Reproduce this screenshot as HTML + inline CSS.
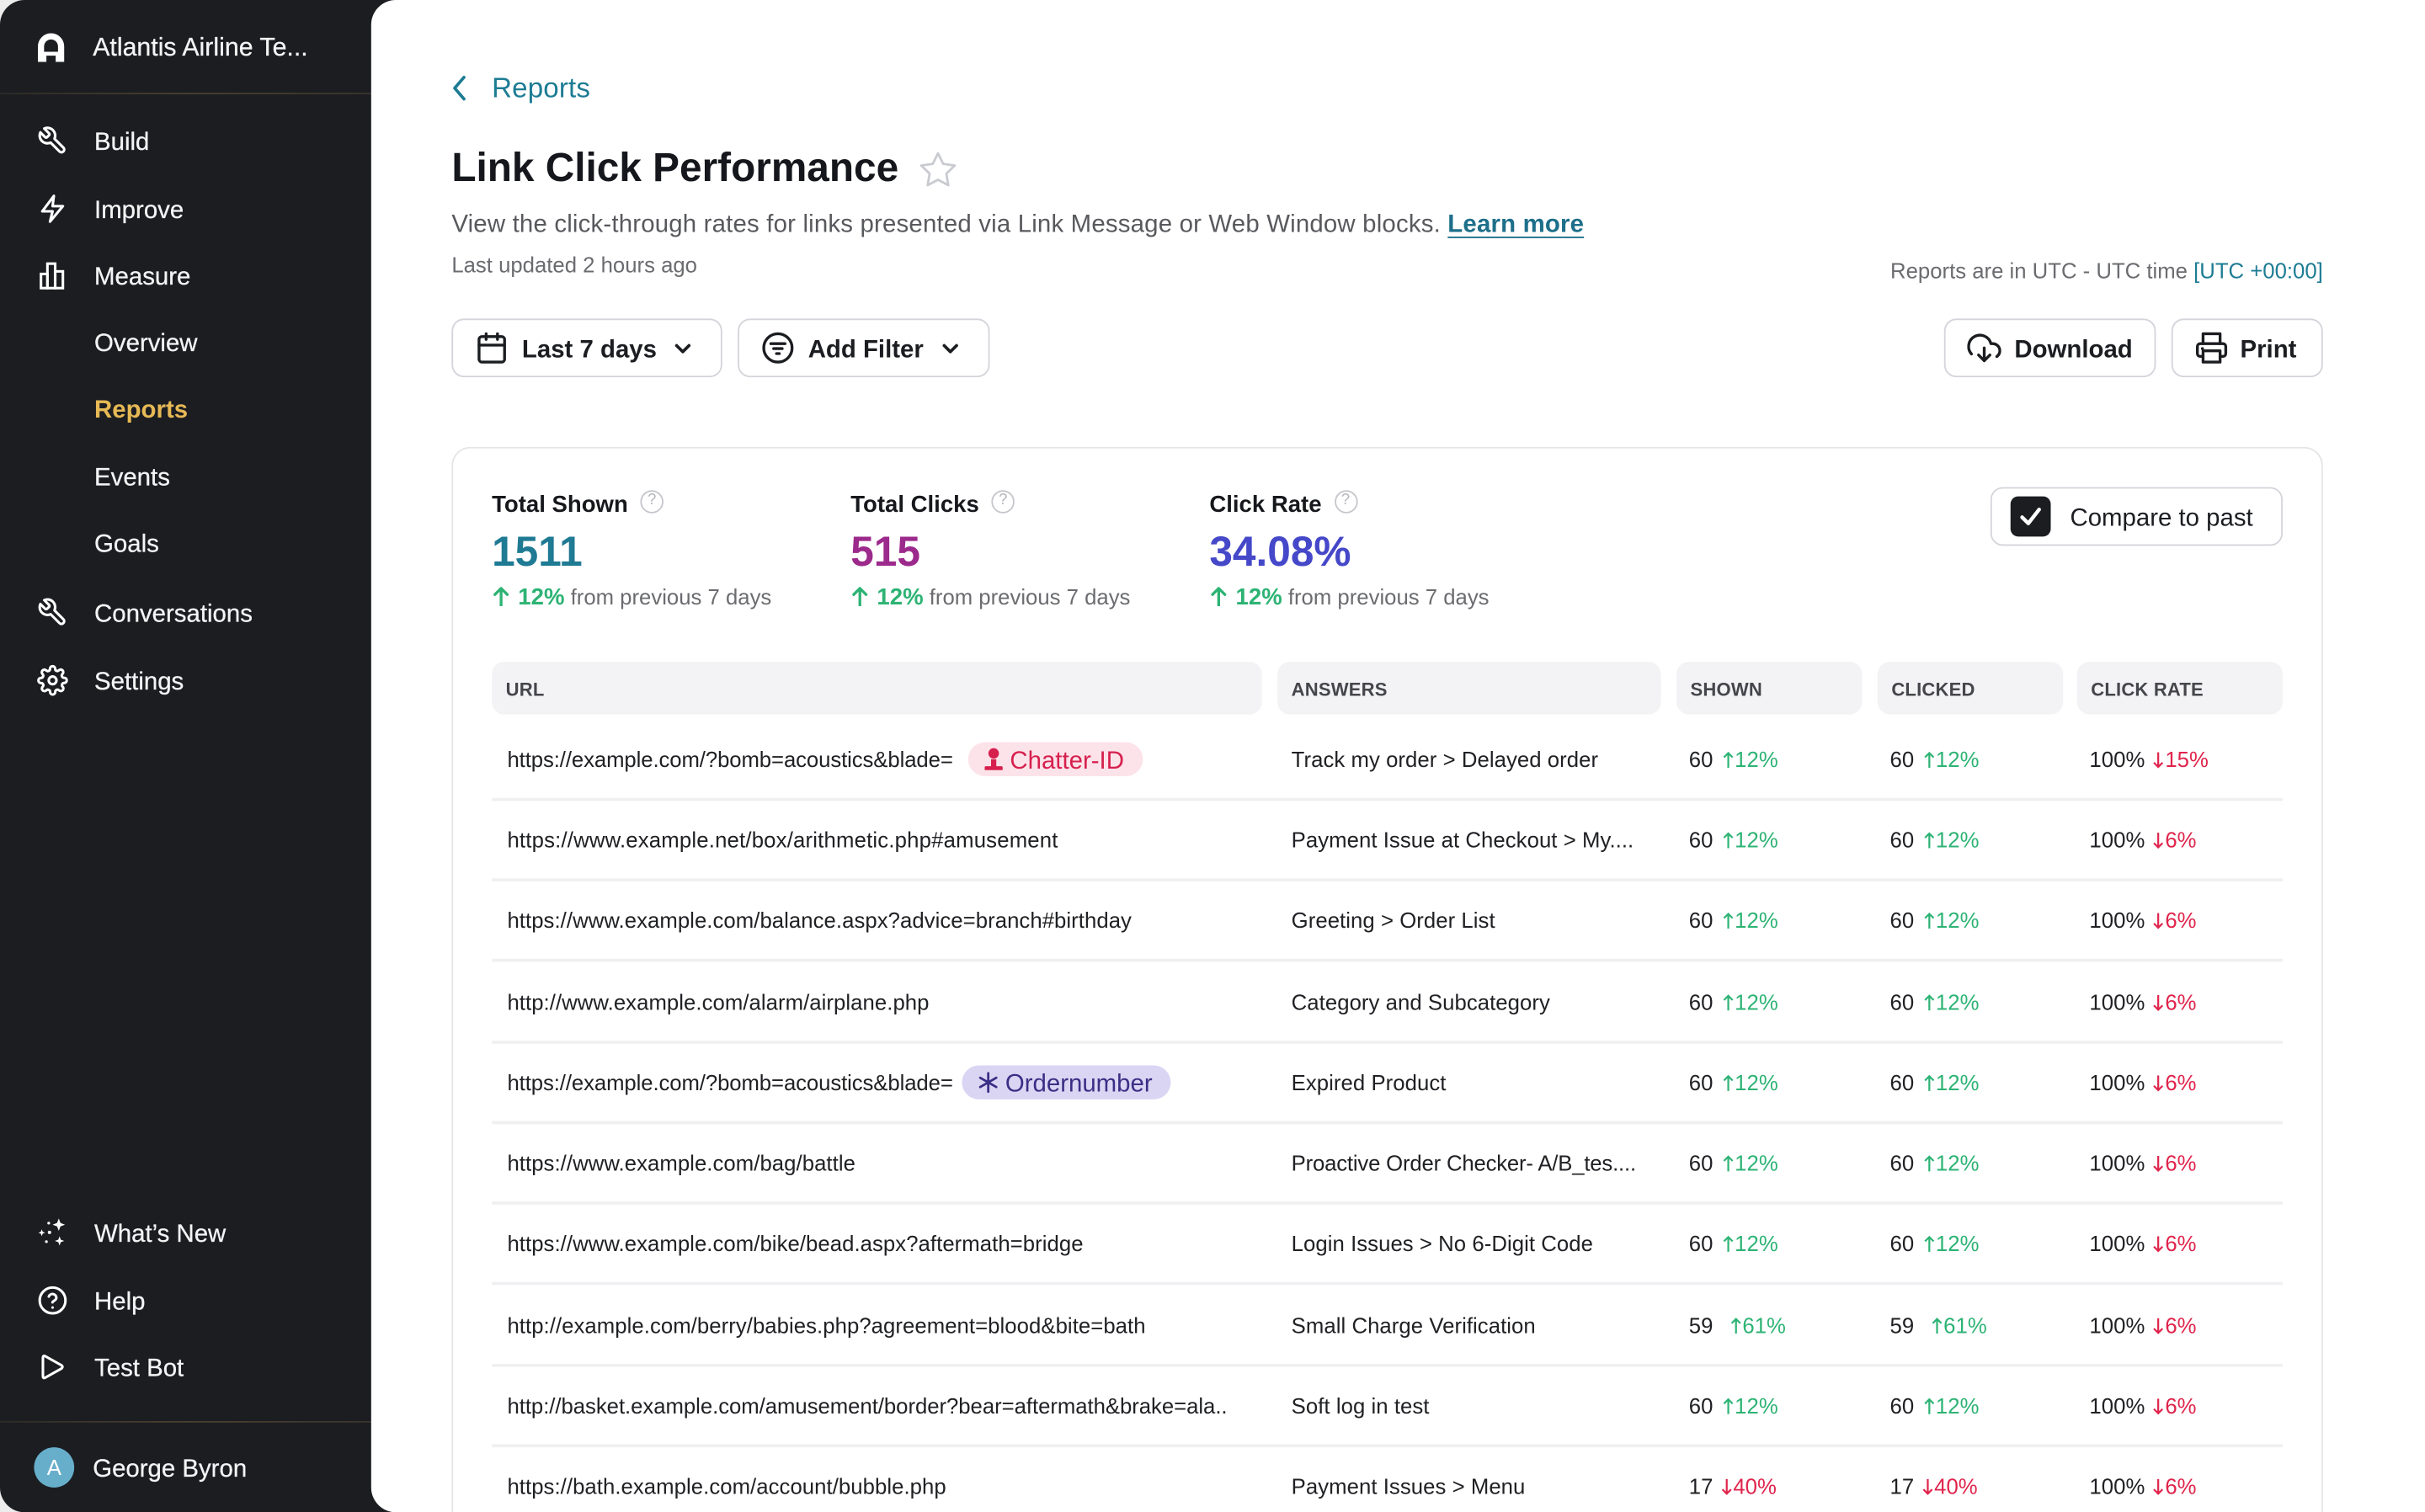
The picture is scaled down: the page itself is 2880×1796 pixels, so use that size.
<!DOCTYPE html>
<html><head><meta charset="utf-8">
<style>
*{box-sizing:border-box}
html,body{margin:0;padding:0}
body{width:2880px;height:1796px;overflow:hidden;background:#ececec;font-family:"Liberation Sans",Arial,sans-serif;position:relative}
#s{position:absolute;left:0;top:0;width:1568px;height:978px;transform:scale(1.836735);transform-origin:0 0;overflow:hidden}
.a{position:absolute;white-space:nowrap}
.side{position:absolute;left:0;top:0;width:280px;height:978px;background:#1b1d21;border-radius:16px 0 0 16px}
.nav{position:absolute;left:61px;height:20px;line-height:20px;font-size:16px;color:#f4f4f5;white-space:nowrap;margin-top:2px;-webkit-text-stroke:0.15px #f4f4f5}
.ic{position:absolute;left:24px;width:20px;height:20px}
.div{position:absolute;left:0;width:240px;height:1px;background:linear-gradient(90deg,#2e2b27,#4a4030 50%,#3a352c)}
.main{position:absolute;left:240px;top:0;width:1328px;height:978px;background:#fff;border-radius:16px 0 0 16px}
.btn{position:absolute;top:206px;height:38px;border:1.5px solid #d4d5db;border-radius:8px;background:#fff}
.btn .bt{position:absolute;top:1.5px;height:35px;line-height:35px;font-size:16px;font-weight:700;color:#1b1d21;white-space:nowrap}
.btn svg{position:absolute}
.th{position:absolute;top:428px;height:34px;background:#f3f3f5;border-radius:8px}
.thl{position:absolute;top:1px;left:9px;height:34px;line-height:34px;font-size:12px;font-weight:700;color:#45464b;letter-spacing:0.1px}
.td{height:20px;line-height:20px;font-size:14px;color:#202124;letter-spacing:0.03px}
.g{color:#2db374;margin-left:6px}
.g2{color:#2db374;margin-left:11px}
.r{color:#e0244c;margin-left:5px}
svg.ar{width:7px;height:11px;vertical-align:-1px;margin-right:1px}
.sep{position:absolute;left:318px;width:1158px;height:2px;background:#f0f0f2}
.lbl{height:22px;line-height:22px;font-size:15px;font-weight:700;color:#17181c}
.q{display:inline-block;width:15px;height:15px;border:1.2px solid #c6c7cc;border-radius:50%;font-size:10px;line-height:12.5px;text-align:center;color:#b5b6bb;font-weight:400;vertical-align:middle;position:relative;top:-2.5px;margin-left:8px}
.big{height:34px;line-height:34px;font-size:27px;font-weight:700}
.chg{height:20px;line-height:20px;font-size:14px;color:#6b6c70}
.chg b{color:#2db374;font-size:15px}
</style></head>
<body>
<div id="s">
<!-- Sidebar -->
<div class="side"></div>
<svg class="a" style="left:23px;top:21px" width="20" height="20" viewBox="0 0 20 20"><path d="M1.5 19V9a8.5 8.5 0 0 1 17 0v10h-5.5v-4h-6v4z" fill="#fff"/><path d="M5.5 12.5V9a4.5 4.5 0 0 1 9 0v3.5z" fill="#1b1d21"/></svg>
<div class="nav" style="left:60px;top:19px;font-size:16.5px">Atlantis Airline Te...</div>
<div class="div" style="top:60px"></div>

<svg class="ic" style="top:81px" viewBox="0 0 24 24" fill="none" stroke="#fff" stroke-width="2" stroke-linecap="round" stroke-linejoin="round"><g transform="translate(24,0) scale(-1,1)"><path d="M14.7 6.3a1 1 0 0 0 0 1.4l1.6 1.6a1 1 0 0 0 1.4 0l3.77-3.77a6 6 0 0 1-7.94 7.94l-6.91 6.91a2.12 2.12 0 0 1-3-3l6.91-6.91a6 6 0 0 1 7.94-7.94l-3.76 3.76z"/></g></svg>
<div class="nav" style="top:81px">Build</div>
<svg class="ic" style="top:125px" viewBox="0 0 24 24" fill="none" stroke="#fff" stroke-width="2" stroke-linejoin="round"><polygon points="13 2 4 14 12 14 10 22 20 10 12 10 13 2"/></svg>
<div class="nav" style="top:125px">Improve</div>
<svg class="ic" style="top:168px" viewBox="0 0 24 24" fill="none" stroke="#fff" stroke-width="2"><rect x="3" y="11" width="5" height="11"/><rect x="8" y="3" width="6" height="19"/><rect x="14" y="9" width="6" height="13"/></svg>
<div class="nav" style="top:168px">Measure</div>
<div class="nav" style="top:211px">Overview</div>
<div class="nav" style="top:254px;color:#e6b955;font-weight:700;-webkit-text-stroke:0">Reports</div>
<div class="nav" style="top:298px">Events</div>
<div class="nav" style="top:341px">Goals</div>
<svg class="ic" style="top:386px" viewBox="0 0 24 24" fill="none" stroke="#fff" stroke-width="2" stroke-linecap="round" stroke-linejoin="round"><g transform="translate(24,0) scale(-1,1)"><path d="M14.7 6.3a1 1 0 0 0 0 1.4l1.6 1.6a1 1 0 0 0 1.4 0l3.77-3.77a6 6 0 0 1-7.94 7.94l-6.91 6.91a2.12 2.12 0 0 1-3-3l6.91-6.91a6 6 0 0 1 7.94-7.94l-3.76 3.76z"/></g></svg>
<div class="nav" style="top:386px">Conversations</div>
<svg class="ic" style="top:430px" viewBox="0 0 24 24" fill="none" stroke="#fff" stroke-width="2" stroke-linecap="round" stroke-linejoin="round"><circle cx="12" cy="12" r="3"/><path d="M19.4 15a1.65 1.65 0 0 0 .33 1.82l.06.06a2 2 0 0 1 0 2.83 2 2 0 0 1-2.83 0l-.06-.06a1.65 1.65 0 0 0-1.82-.33 1.65 1.65 0 0 0-1 1.51V21a2 2 0 0 1-2 2 2 2 0 0 1-2-2v-.09A1.65 1.65 0 0 0 9 19.4a1.65 1.65 0 0 0-1.82.33l-.06.06a2 2 0 0 1-2.83 0 2 2 0 0 1 0-2.83l.06-.06a1.65 1.65 0 0 0 .33-1.82 1.65 1.65 0 0 0-1.51-1H3a2 2 0 0 1-2-2 2 2 0 0 1 2-2h.09A1.65 1.65 0 0 0 4.6 9a1.65 1.65 0 0 0-.33-1.82l-.06-.06a2 2 0 0 1 0-2.83 2 2 0 0 1 2.83 0l.06.06a1.65 1.65 0 0 0 1.82.33H9a1.65 1.65 0 0 0 1-1.51V3a2 2 0 0 1 2-2 2 2 0 0 1 2 2v.09a1.65 1.65 0 0 0 1 1.51 1.65 1.65 0 0 0 1.82-.33l.06-.06a2 2 0 0 1 2.83 0 2 2 0 0 1 0 2.83l-.06.06a1.65 1.65 0 0 0-.33 1.82V9a1.65 1.65 0 0 0 1.51 1H21a2 2 0 0 1 2 2 2 2 0 0 1-2 2h-.09a1.65 1.65 0 0 0-1.51 1z"/></svg>
<div class="nav" style="top:430px">Settings</div>

<svg class="ic" style="top:787px" viewBox="0 0 20 20" fill="#fff"><path d="M14 1l1.1 2.9L18 5l-2.9 1.1L14 9l-1.1-2.9L10 5l2.9-1.1z"/><path d="M14.5 12.5l.8 2.2 2.2.8-2.2.8-.8 2.2-.8-2.2-2.2-.8 2.2-.8z"/><path d="M3 8l.6 1.6L5.2 10.2l-1.6.6L3 12.4l-.6-1.6L.8 10.2l1.6-.6z"/><circle cx="7.5" cy="4" r=".9"/><circle cx="8" cy="10" r="1.1"/><circle cx="6" cy="16" r=".9"/></svg>
<div class="nav" style="top:787px">What’s New</div>
<svg class="ic" style="top:831px" viewBox="0 0 24 24" fill="none" stroke="#fff" stroke-width="2" stroke-linecap="round"><circle cx="12" cy="12" r="10"/><path d="M9.09 9a3 3 0 0 1 5.83 1c0 2-3 2.5-3 3.5"/><line x1="12" y1="17.5" x2="12.01" y2="17.5"/></svg>
<div class="nav" style="top:831px">Help</div>
<svg class="ic" style="top:874px" viewBox="0 0 24 24" fill="none" stroke="#fff" stroke-width="2" stroke-linejoin="round"><path d="M6 3.5Q4.5 3 4.5 5v14q0 2 1.5 1.5L19 13.2q1.4-1.2 0-2.4z"/></svg>
<div class="nav" style="top:874px">Test Bot</div>
<div class="div" style="top:919px"></div>
<div class="a" style="left:22px;top:936px;width:26px;height:26px;border-radius:50%;background:#67aecb;color:#fff;font-size:14px;line-height:27px;text-align:center">A</div>
<div class="nav" style="left:60px;top:939px">George Byron</div>

<!-- Main -->
<div class="main"></div>
<svg class="a" style="left:290px;top:48px" width="14" height="18" viewBox="0 0 14 18"><polyline points="10,2 4,9 10,16" fill="none" stroke="#1d7c94" stroke-width="2" stroke-linecap="round" stroke-linejoin="round"/></svg>
<div class="a" style="left:318px;top:46px;height:22px;line-height:22px;font-size:18px;color:#1d7c94;letter-spacing:0.1px">Reports</div>
<div class="a" style="left:292px;top:91px;height:34px;line-height:34px;font-size:26px;font-weight:700;color:#15171c">Link Click Performance</div>
<svg class="a" style="left:593px;top:97px" width="27" height="26" viewBox="0 0 24 24"><polygon points="12 2 15.09 8.26 22 9.27 17 14.14 18.18 21.02 12 17.77 5.82 21.02 7 14.14 2 9.27 8.91 8.26 12 2" fill="none" stroke="#c9cbd1" stroke-width="1.4" stroke-linejoin="round"/></svg>
<div class="a" style="left:292px;top:134.5px;height:22px;line-height:22px;font-size:16px;color:#58595d;letter-spacing:0.1px">View the click-through rates for links presented via Link Message or Web Window blocks. <span style="color:#1d6f8a;font-weight:700;text-decoration:underline;text-underline-offset:3px">Learn more</span></div>
<div class="a" style="left:292px;top:160.5px;height:20px;line-height:20px;font-size:14px;color:#6b6c70">Last updated 2 hours ago</div>
<div class="a" style="right:66px;top:164.5px;height:20px;line-height:20px;font-size:14px;color:#6b6c70">Reports are in UTC - UTC time <span style="color:#1d7c94">[UTC +00:00]</span></div>

<!-- Buttons -->
<div class="btn" style="left:292px;width:175px">
<svg style="left:13.5px;top:6.5px" width="22" height="22" viewBox="0 0 24 24" fill="none" stroke="#1b1d21" stroke-width="2" stroke-linecap="round"><rect x="3" y="4" width="18" height="18" rx="2"/><line x1="16" y1="2" x2="16" y2="6"/><line x1="8" y1="2" x2="8" y2="6"/><line x1="3" y1="10" x2="21" y2="10"/></svg>
<div class="bt" style="left:44.5px">Last 7 days</div>
<svg style="left:143px;top:15px" width="11" height="8" viewBox="0 0 11 8"><polyline points="1.5,1.5 5.5,5.5 9.5,1.5" fill="none" stroke="#1b1d21" stroke-width="2" stroke-linecap="round" stroke-linejoin="round"/></svg>
</div>
<div class="btn" style="left:477px;width:163px">
<svg style="left:13.5px;top:6.5px" width="22" height="22" viewBox="0 0 24 24" fill="none" stroke="#1b1d21" stroke-width="2" stroke-linecap="round"><circle cx="12" cy="12" r="10"/><line x1="7" y1="9" x2="17" y2="9"/><line x1="9" y1="12.5" x2="15" y2="12.5"/><line x1="11" y1="16" x2="13" y2="16"/></svg>
<div class="bt" style="left:44.5px">Add Filter</div>
<svg style="left:131px;top:15px" width="11" height="8" viewBox="0 0 11 8"><polyline points="1.5,1.5 5.5,5.5 9.5,1.5" fill="none" stroke="#1b1d21" stroke-width="2" stroke-linecap="round" stroke-linejoin="round"/></svg>
</div>
<div class="btn" style="left:1257px;width:137px">
<svg style="left:13.5px;top:6.5px" width="22" height="22" viewBox="0 0 24 24" fill="none" stroke="#1b1d21" stroke-width="2" stroke-linecap="round" stroke-linejoin="round"><polyline points="8 17 12 21 16 17"/><line x1="12" y1="12" x2="12" y2="21"/><path d="M20.88 18.09A5 5 0 0 0 18 9h-1.26A8 8 0 1 0 3 16.29"/></svg>
<div class="bt" style="left:44.5px">Download</div>
</div>
<div class="btn" style="left:1404px;width:98px">
<svg style="left:13.5px;top:6.5px" width="22" height="22" viewBox="0 0 24 24" fill="none" stroke="#1b1d21" stroke-width="2" stroke-linecap="round" stroke-linejoin="round"><polyline points="6 9 6 2 18 2 18 9"/><path d="M6 18H4a2 2 0 0 1-2-2v-5a2 2 0 0 1 2-2h16a2 2 0 0 1 2 2v5a2 2 0 0 1-2 2h-2"/><rect x="6" y="14" width="12" height="8"/><line x1="5.5" y1="12.5" x2="5.6" y2="12.5"/></svg>
<div class="bt" style="left:43.5px">Print</div>
</div>

<!-- Card -->
<div class="a" style="left:292px;top:289px;width:1210px;height:760px;border:1px solid #e5e5e8;border-radius:12px;background:#fff"></div>

<div class="a lbl" style="left:318px;top:315.5px">Total Shown<span class="q">?</span></div>
<div class="a big" style="left:318px;top:340px;color:#1f7a94">1511</div>
<div class="a chg" style="left:319px;top:376px"><svg width="10" height="13" viewBox="0 0 10 13" style="vertical-align:-1px;margin-right:6px"><path d="M5 12.5V1.5M1 5.5l4-4 4 4" fill="none" stroke="#2db374" stroke-width="1.8" stroke-linecap="round" stroke-linejoin="round"/></svg><b>12%</b> from previous 7 days</div>

<div class="a lbl" style="left:550px;top:315.5px">Total Clicks<span class="q">?</span></div>
<div class="a big" style="left:550px;top:340px;color:#9c2a8c">515</div>
<div class="a chg" style="left:551px;top:376px"><svg width="10" height="13" viewBox="0 0 10 13" style="vertical-align:-1px;margin-right:6px"><path d="M5 12.5V1.5M1 5.5l4-4 4 4" fill="none" stroke="#2db374" stroke-width="1.8" stroke-linecap="round" stroke-linejoin="round"/></svg><b>12%</b> from previous 7 days</div>

<div class="a lbl" style="left:782px;top:315.5px">Click Rate<span class="q">?</span></div>
<div class="a big" style="left:782px;top:340px;color:#4548c8">34.08%</div>
<div class="a chg" style="left:783px;top:376px"><svg width="10" height="13" viewBox="0 0 10 13" style="vertical-align:-1px;margin-right:6px"><path d="M5 12.5V1.5M1 5.5l4-4 4 4" fill="none" stroke="#2db374" stroke-width="1.8" stroke-linecap="round" stroke-linejoin="round"/></svg><b>12%</b> from previous 7 days</div>

<div class="a" style="left:1287px;top:315px;width:189px;height:38px;border:1.5px solid #d4d5db;border-radius:8px;background:#fff">
<div class="a" style="left:11.5px;top:4.5px;width:26px;height:26px;border-radius:5px;background:#1b1d21"></div>
<svg class="a" style="left:11.5px;top:4.5px" width="26" height="26" viewBox="0 0 26 26"><polyline points="7.5,13.5 11.5,17.5 18.5,8.5" fill="none" stroke="#fff" stroke-width="2.4" stroke-linecap="round" stroke-linejoin="round"/></svg>
<div class="a" style="left:50.5px;top:1.5px;height:35px;line-height:35px;font-size:16px;color:#1b1d21">Compare to past</div>
</div>

<!-- Table header -->
<div class="th" style="left:318px;width:498px"><div class="thl">URL</div></div>
<div class="th" style="left:826px;width:248px"><div class="thl">ANSWERS</div></div>
<div class="th" style="left:1084px;width:120px"><div class="thl">SHOWN</div></div>
<div class="th" style="left:1214px;width:120px"><div class="thl">CLICKED</div></div>
<div class="th" style="left:1343px;width:133px"><div class="thl">CLICK RATE</div></div>

<!-- separators -->
<div class="sep" style="top:516px"></div>
<div class="sep" style="top:568px"></div>
<div class="sep" style="top:620px"></div>
<div class="sep" style="top:673px"></div>
<div class="sep" style="top:725px"></div>
<div class="sep" style="top:777px"></div>
<div class="sep" style="top:829px"></div>
<div class="sep" style="top:882px"></div>
<div class="sep" style="top:934px"></div>

<!-- Row 1 -->
<div class="a td" style="left:328px;top:481px;letter-spacing:-0.05px">https://example.com/?bomb=acoustics&amp;blade=</div>
<div class="a" style="left:626px;top:480px;width:113px;height:22px;border-radius:11px;background:#fce3e9"></div>
<svg class="a" style="left:636px;top:483px" width="13" height="16" viewBox="0 0 13 16"><circle cx="6.5" cy="4.2" r="3.4" fill="#d6204e"/><path d="M4.8 8h3.4v4.5h3.3q.8 0 .8 .8V15H.7v-1.7q0-.8.8-.8h3.3z" fill="#d6204e"/></svg>
<div class="a" style="left:653px;top:481.5px;height:22px;line-height:22px;font-size:16px;color:#d6204e">Chatter-ID</div>
<div class="a td" style="left:835px;top:481px">Track my order &gt; Delayed order</div>
<div class="a td" style="left:1092px;top:481px">60<span class="g"><svg class="ar" viewBox="0 0 7 11"><path d="M3.5 10.5V1M.7 3.8 3.5 1l2.8 2.8" fill="none" stroke="currentColor" stroke-width="1.2"/></svg>12%</span></div>
<div class="a td" style="left:1222px;top:481px">60<span class="g"><svg class="ar" viewBox="0 0 7 11"><path d="M3.5 10.5V1M.7 3.8 3.5 1l2.8 2.8" fill="none" stroke="currentColor" stroke-width="1.2"/></svg>12%</span></div>
<div class="a td" style="left:1351px;top:481px">100%<span class="r"><svg class="ar" viewBox="0 0 7 11"><path d="M3.5 .5V10M.7 7.2 3.5 10l2.8-2.8" fill="none" stroke="currentColor" stroke-width="1.2"/></svg>15%</span></div>

<!-- Row 2 -->
<div class="a td" style="left:328px;top:533px;letter-spacing:0.1px">https://www.example.net/box/arithmetic.php#amusement</div>
<div class="a td" style="left:835px;top:533px">Payment Issue at Checkout &gt; My....</div>
<div class="a td" style="left:1092px;top:533px">60<span class="g"><svg class="ar" viewBox="0 0 7 11"><path d="M3.5 10.5V1M.7 3.8 3.5 1l2.8 2.8" fill="none" stroke="currentColor" stroke-width="1.2"/></svg>12%</span></div>
<div class="a td" style="left:1222px;top:533px">60<span class="g"><svg class="ar" viewBox="0 0 7 11"><path d="M3.5 10.5V1M.7 3.8 3.5 1l2.8 2.8" fill="none" stroke="currentColor" stroke-width="1.2"/></svg>12%</span></div>
<div class="a td" style="left:1351px;top:533px">100%<span class="r"><svg class="ar" viewBox="0 0 7 11"><path d="M3.5 .5V10M.7 7.2 3.5 10l2.8-2.8" fill="none" stroke="currentColor" stroke-width="1.2"/></svg>6%</span></div>

<!-- Row 3 -->
<div class="a td" style="left:328px;top:585px">https://www.example.com/balance.aspx?advice=branch#birthday</div>
<div class="a td" style="left:835px;top:585px">Greeting &gt; Order List</div>
<div class="a td" style="left:1092px;top:585px">60<span class="g"><svg class="ar" viewBox="0 0 7 11"><path d="M3.5 10.5V1M.7 3.8 3.5 1l2.8 2.8" fill="none" stroke="currentColor" stroke-width="1.2"/></svg>12%</span></div>
<div class="a td" style="left:1222px;top:585px">60<span class="g"><svg class="ar" viewBox="0 0 7 11"><path d="M3.5 10.5V1M.7 3.8 3.5 1l2.8 2.8" fill="none" stroke="currentColor" stroke-width="1.2"/></svg>12%</span></div>
<div class="a td" style="left:1351px;top:585px">100%<span class="r"><svg class="ar" viewBox="0 0 7 11"><path d="M3.5 .5V10M.7 7.2 3.5 10l2.8-2.8" fill="none" stroke="currentColor" stroke-width="1.2"/></svg>6%</span></div>

<!-- Row 4 -->
<div class="a td" style="left:328px;top:638px">http://www.example.com/alarm/airplane.php</div>
<div class="a td" style="left:835px;top:638px">Category and Subcategory</div>
<div class="a td" style="left:1092px;top:638px">60<span class="g"><svg class="ar" viewBox="0 0 7 11"><path d="M3.5 10.5V1M.7 3.8 3.5 1l2.8 2.8" fill="none" stroke="currentColor" stroke-width="1.2"/></svg>12%</span></div>
<div class="a td" style="left:1222px;top:638px">60<span class="g"><svg class="ar" viewBox="0 0 7 11"><path d="M3.5 10.5V1M.7 3.8 3.5 1l2.8 2.8" fill="none" stroke="currentColor" stroke-width="1.2"/></svg>12%</span></div>
<div class="a td" style="left:1351px;top:638px">100%<span class="r"><svg class="ar" viewBox="0 0 7 11"><path d="M3.5 .5V10M.7 7.2 3.5 10l2.8-2.8" fill="none" stroke="currentColor" stroke-width="1.2"/></svg>6%</span></div>

<!-- Row 5 -->
<div class="a td" style="left:328px;top:690px;letter-spacing:-0.05px">https://example.com/?bomb=acoustics&amp;blade=</div>
<div class="a" style="left:622px;top:689px;width:135px;height:22px;border-radius:11px;background:#dbd5f4"></div>
<svg class="a" style="left:632px;top:693px" width="14" height="14" viewBox="0 0 14 14"><g stroke="#3a2f85" stroke-width="1.5" stroke-linecap="round"><line x1="7" y1="1" x2="7" y2="13"/><line x1="1.8" y1="4" x2="12.2" y2="10"/><line x1="1.8" y1="10" x2="12.2" y2="4"/></g></svg>
<div class="a" style="left:650px;top:690.5px;height:22px;line-height:22px;font-size:16px;color:#3a2f85">Ordernumber</div>
<div class="a td" style="left:835px;top:690px">Expired Product</div>
<div class="a td" style="left:1092px;top:690px">60<span class="g"><svg class="ar" viewBox="0 0 7 11"><path d="M3.5 10.5V1M.7 3.8 3.5 1l2.8 2.8" fill="none" stroke="currentColor" stroke-width="1.2"/></svg>12%</span></div>
<div class="a td" style="left:1222px;top:690px">60<span class="g"><svg class="ar" viewBox="0 0 7 11"><path d="M3.5 10.5V1M.7 3.8 3.5 1l2.8 2.8" fill="none" stroke="currentColor" stroke-width="1.2"/></svg>12%</span></div>
<div class="a td" style="left:1351px;top:690px">100%<span class="r"><svg class="ar" viewBox="0 0 7 11"><path d="M3.5 .5V10M.7 7.2 3.5 10l2.8-2.8" fill="none" stroke="currentColor" stroke-width="1.2"/></svg>6%</span></div>

<!-- Row 6 -->
<div class="a td" style="left:328px;top:742px">https://www.example.com/bag/battle</div>
<div class="a td" style="left:835px;top:742px;letter-spacing:-0.1px">Proactive Order Checker- A/B_tes....</div>
<div class="a td" style="left:1092px;top:742px">60<span class="g"><svg class="ar" viewBox="0 0 7 11"><path d="M3.5 10.5V1M.7 3.8 3.5 1l2.8 2.8" fill="none" stroke="currentColor" stroke-width="1.2"/></svg>12%</span></div>
<div class="a td" style="left:1222px;top:742px">60<span class="g"><svg class="ar" viewBox="0 0 7 11"><path d="M3.5 10.5V1M.7 3.8 3.5 1l2.8 2.8" fill="none" stroke="currentColor" stroke-width="1.2"/></svg>12%</span></div>
<div class="a td" style="left:1351px;top:742px">100%<span class="r"><svg class="ar" viewBox="0 0 7 11"><path d="M3.5 .5V10M.7 7.2 3.5 10l2.8-2.8" fill="none" stroke="currentColor" stroke-width="1.2"/></svg>6%</span></div>

<!-- Row 7 -->
<div class="a td" style="left:328px;top:794px">https://www.example.com/bike/bead.aspx?aftermath=bridge</div>
<div class="a td" style="left:835px;top:794px">Login Issues &gt; No 6-Digit Code</div>
<div class="a td" style="left:1092px;top:794px">60<span class="g"><svg class="ar" viewBox="0 0 7 11"><path d="M3.5 10.5V1M.7 3.8 3.5 1l2.8 2.8" fill="none" stroke="currentColor" stroke-width="1.2"/></svg>12%</span></div>
<div class="a td" style="left:1222px;top:794px">60<span class="g"><svg class="ar" viewBox="0 0 7 11"><path d="M3.5 10.5V1M.7 3.8 3.5 1l2.8 2.8" fill="none" stroke="currentColor" stroke-width="1.2"/></svg>12%</span></div>
<div class="a td" style="left:1351px;top:794px">100%<span class="r"><svg class="ar" viewBox="0 0 7 11"><path d="M3.5 .5V10M.7 7.2 3.5 10l2.8-2.8" fill="none" stroke="currentColor" stroke-width="1.2"/></svg>6%</span></div>

<!-- Row 8 -->
<div class="a td" style="left:328px;top:847px">http://example.com/berry/babies.php?agreement=blood&amp;bite=bath</div>
<div class="a td" style="left:835px;top:847px">Small Charge Verification</div>
<div class="a td" style="left:1092px;top:847px">59<span class="g2"><svg class="ar" viewBox="0 0 7 11"><path d="M3.5 10.5V1M.7 3.8 3.5 1l2.8 2.8" fill="none" stroke="currentColor" stroke-width="1.2"/></svg>61%</span></div>
<div class="a td" style="left:1222px;top:847px">59<span class="g2"><svg class="ar" viewBox="0 0 7 11"><path d="M3.5 10.5V1M.7 3.8 3.5 1l2.8 2.8" fill="none" stroke="currentColor" stroke-width="1.2"/></svg>61%</span></div>
<div class="a td" style="left:1351px;top:847px">100%<span class="r"><svg class="ar" viewBox="0 0 7 11"><path d="M3.5 .5V10M.7 7.2 3.5 10l2.8-2.8" fill="none" stroke="currentColor" stroke-width="1.2"/></svg>6%</span></div>

<!-- Row 9 -->
<div class="a td" style="left:328px;top:899px;letter-spacing:-0.02px">http://basket.example.com/amusement/border?bear=aftermath&amp;brake=ala..</div>
<div class="a td" style="left:835px;top:899px">Soft log in test</div>
<div class="a td" style="left:1092px;top:899px">60<span class="g"><svg class="ar" viewBox="0 0 7 11"><path d="M3.5 10.5V1M.7 3.8 3.5 1l2.8 2.8" fill="none" stroke="currentColor" stroke-width="1.2"/></svg>12%</span></div>
<div class="a td" style="left:1222px;top:899px">60<span class="g"><svg class="ar" viewBox="0 0 7 11"><path d="M3.5 10.5V1M.7 3.8 3.5 1l2.8 2.8" fill="none" stroke="currentColor" stroke-width="1.2"/></svg>12%</span></div>
<div class="a td" style="left:1351px;top:899px">100%<span class="r"><svg class="ar" viewBox="0 0 7 11"><path d="M3.5 .5V10M.7 7.2 3.5 10l2.8-2.8" fill="none" stroke="currentColor" stroke-width="1.2"/></svg>6%</span></div>

<!-- Row 10 -->
<div class="a td" style="left:328px;top:951px">https://bath.example.com/account/bubble.php</div>
<div class="a td" style="left:835px;top:951px">Payment Issues &gt; Menu</div>
<div class="a td" style="left:1092px;top:951px">17<span class="r"><svg class="ar" viewBox="0 0 7 11"><path d="M3.5 .5V10M.7 7.2 3.5 10l2.8-2.8" fill="none" stroke="currentColor" stroke-width="1.2"/></svg>40%</span></div>
<div class="a td" style="left:1222px;top:951px">17<span class="r"><svg class="ar" viewBox="0 0 7 11"><path d="M3.5 .5V10M.7 7.2 3.5 10l2.8-2.8" fill="none" stroke="currentColor" stroke-width="1.2"/></svg>40%</span></div>
<div class="a td" style="left:1351px;top:951px">100%<span class="r"><svg class="ar" viewBox="0 0 7 11"><path d="M3.5 .5V10M.7 7.2 3.5 10l2.8-2.8" fill="none" stroke="currentColor" stroke-width="1.2"/></svg>6%</span></div>

</div>
</body></html>
